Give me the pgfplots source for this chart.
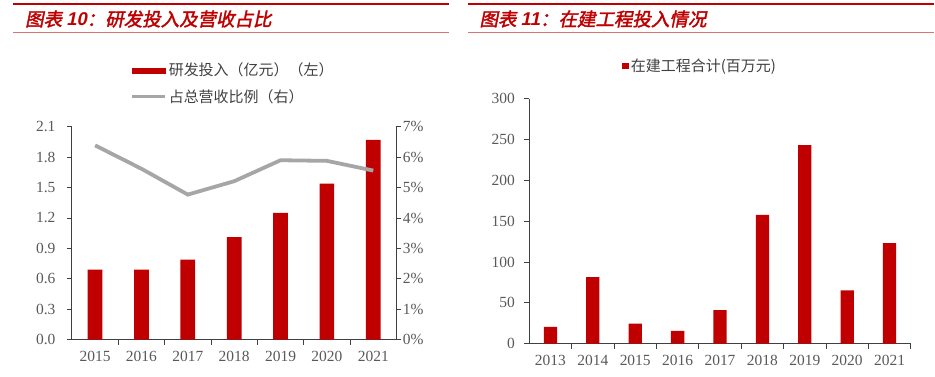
\documentclass[border=0pt]{standalone}
\usepackage{pgfplots}
\pgfplotsset{compat=1.18}
\usepackage{fontspec}
\setmainfont{Liberation Serif}
\newfontfamily\cjk{Noto Sans CJK SC}
\newfontfamily\cjktitle[FakeSlant=0.2,FakeBold=2]{Noto Sans CJK SC}
\newfontfamily\lattitle[FakeSlant=0.2]{Liberation Sans}
\definecolor{barred}{HTML}{C00000}
\definecolor{linegray}{HTML}{A6A6A6}
\definecolor{axgray}{HTML}{404040}
\definecolor{txtgray}{HTML}{595959}
\definecolor{titlered}{HTML}{C00000}
\begin{document}
\begin{tikzpicture}[x=1pt,y=1pt]
\path (0,0) rectangle (935,377);
% header decorations
\draw[titlered, line width=2.6pt] (13,373) -- (450,373);
\draw[titlered, line width=2.6pt] (469,373) -- (935,373);
\draw[titlered!55, line width=1pt] (13,344) -- (450,344);
\draw[titlered!55, line width=1pt] (469,344) -- (935,344);
\node[anchor=west, inner sep=0, text=titlered, font=\cjktitle\fontsize{18.5}{21}\selectfont] at (25,358) {图表 {\lattitle\bfseries 10}：研发投入及营收占比};
\node[anchor=west, inner sep=0, text=titlered, font=\cjktitle\fontsize{18.5}{21}\selectfont] at (480,358) {图表 {\lattitle\bfseries 11}：在建工程投入情况};

\pgfplotsset{
  common/.style={
    scale only axis,
    axis line style={axgray, line width=0.9pt},
    tick style={axgray, line width=0.9pt},
    tick align=outside,
    major tick length=5pt,
    minor tick length=5pt,
    ticklabel style={font=\fontsize{15.5}{18}\selectfont, text=txtgray},
    legend style={draw=none, fill=none, inner sep=0pt, font=\cjk\fontsize{15}{17}\selectfont, text=axgray, row sep=8pt, legend cell align=left},
  }
}

% Left chart: bars
\begin{axis}[common,
  at={(72pt,37pt)}, anchor=south west,
  width=325pt, height=213pt,
  xmin=-0.5, xmax=6.5, ymin=0, ymax=2.1,
  axis x line*=bottom, axis y line*=left,
  xtick={0,...,6},
  xticklabels={2015,2016,2017,2018,2019,2020,2021},
  major x tick style={draw=none},
  minor xtick={0.5,1.5,...,5.5},
  xticklabel style={yshift=-3pt},
  ytick={0,0.3,0.6,0.9,1.2,1.5,1.8,2.1},
  yticklabels={0.0,0.3,0.6,0.9,1.2,1.5,1.8,2.1},
  yticklabel style={xshift=-8pt},
]
\addplot[ybar, bar width=14.7pt, fill=barred, draw=none] coordinates {
(0,0.69) (1,0.69) (2,0.79) (3,1.01) (4,1.25) (5,1.54) (6,1.97)};
\end{axis}

% Left chart: line on right axis
\begin{axis}[common,
  at={(72pt,37pt)}, anchor=south west,
  width=325pt, height=213pt,
  xmin=-0.5, xmax=6.5, ymin=0, ymax=7,
  axis x line=none, axis y line*=right,
  ytick={0,1,2,3,4,5,6,7},
  yticklabels={0\%,1\%,2\%,3\%,4\%,5\%,6\%,7\%},
  yticklabel style={xshift=-2pt},
  legend style={at={(0.1785,1.31)}, anchor=north west},
]
\addlegendimage{legend image code/.code={\fill[barred] (0pt,-2.5pt) rectangle (33pt,2.5pt);}}
\addlegendentry{研发投入（亿元）（左）}
\addplot[linegray, line width=3.8pt, legend image code/.code={\draw[linegray, line width=3.8pt] (0pt,0pt) -- (33pt,0pt);}] coordinates {
(0,6.39) (1,5.62) (2,4.77) (3,5.21) (4,5.90) (5,5.88) (6,5.56)};
\addlegendentry{占总营收比例（右）}
\end{axis}

% Right chart
\begin{axis}[common,
  at={(530pt,33pt)}, anchor=south west,
  width=382pt, height=245pt,
  xmin=-0.5, xmax=8.5, ymin=0, ymax=300,
  axis x line*=bottom, axis y line*=left,
  xtick={0,...,8},
  xticklabels={2013,2014,2015,2016,2017,2018,2019,2020,2021},
  major x tick style={draw=none},
  minor xtick={0.5,1.5,...,8.5},
  xticklabel style={yshift=-3pt},
  ytick={0,50,100,150,200,250,300},
  yticklabels={0,50,100,150,200,250,300},
  yticklabel style={xshift=-6pt},
  legend style={at={(0.2435,1.135)}, anchor=west},
]
\addplot[ybar, bar width=13.3pt, fill=barred, draw=none,
  legend image code/.code={\fill[barred] (0pt,-3.3pt) rectangle (6.6pt,3.3pt);}] coordinates {
(0,20.4) (1,81.5) (2,24.5) (3,15.5) (4,40.8) (5,157.8) (6,243.4) (7,65.2) (8,123)};
\addlegendentry{在建工程合计(百万元)}
\end{axis}
\end{tikzpicture}
\end{document}
